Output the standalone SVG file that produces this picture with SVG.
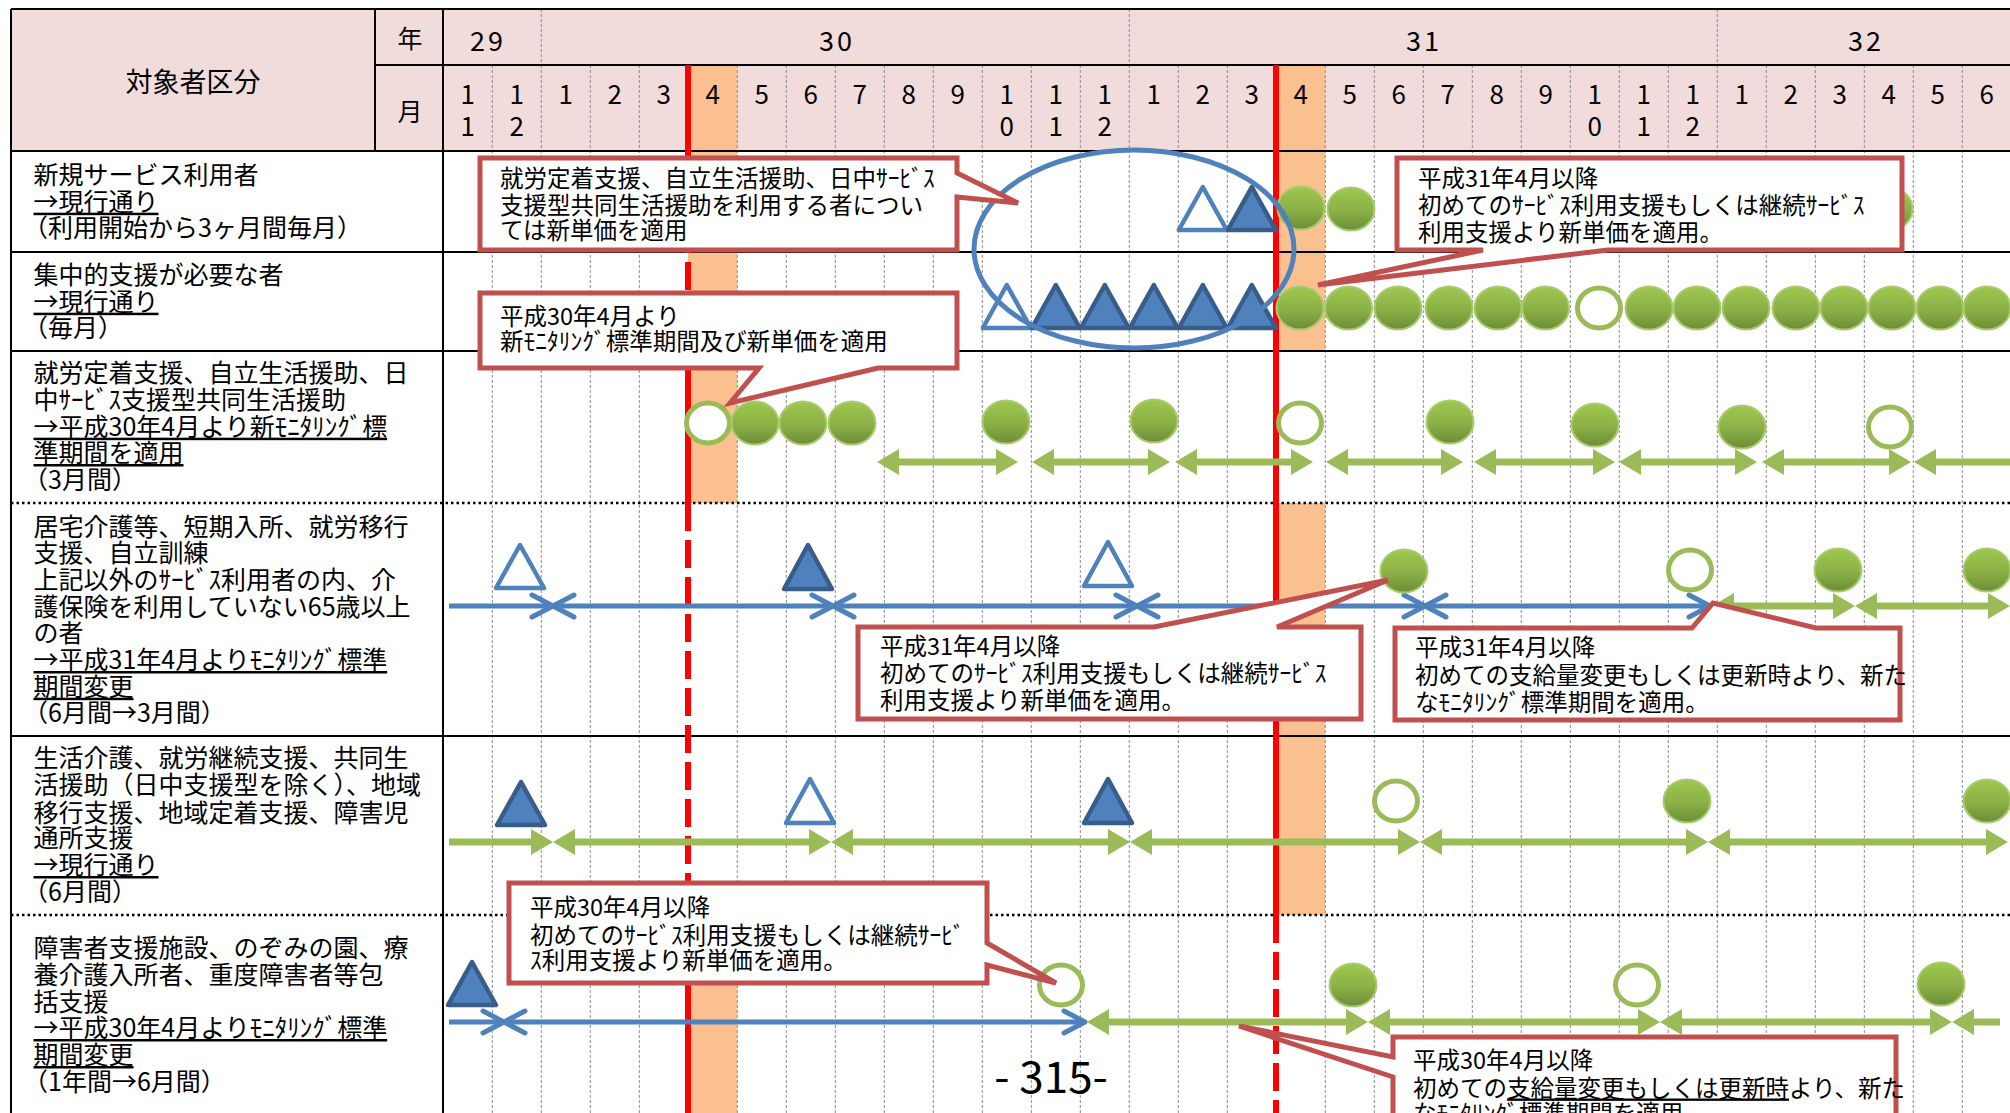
<svg xmlns="http://www.w3.org/2000/svg" width="2010" height="1113" viewBox="0 0 2010 1113">
<style>
text{font-family:"Noto Sans CJK JP","Noto Sans CJK SC",sans-serif;fill:#000}
.lb{font-size:25px}
.co{font-size:23.5px}
.hd{font-size:26px;text-anchor:middle}
.yr{font-size:27px;text-anchor:middle;letter-spacing:3px}
.u{text-decoration:underline}
.grid{stroke:#8a8a8a;stroke-width:1;stroke-dasharray:3 2;fill:none}
.rl{stroke:#000;stroke-width:2;fill:none}
.dot{stroke:#000;stroke-width:2.5;stroke-dasharray:2.5 3;fill:none}
.red{stroke:#FF0000;stroke-width:6;fill:none}
.redd{stroke:#FF0000;stroke-width:6;fill:none;stroke-dasharray:28 9}
.org{fill:#FAC090}
.cf{fill:url(#gg);stroke:#A8CB6E;stroke-width:2}
.ch{fill:#fff;stroke:#9BBB59;stroke-width:5}
.tf{fill:#4F81BD;stroke:#385D8A;stroke-width:4.5;stroke-linejoin:round}
.th{fill:#fff;stroke:#4F81BD;stroke-width:4.5;stroke-linejoin:round}
.ga{stroke:#9BBB59;stroke-width:7;fill:none;marker-start:url(#gh);marker-end:url(#gh)}
.gae{stroke:#9BBB59;stroke-width:7;fill:none;marker-end:url(#gh)}
.gas{stroke:#9BBB59;stroke-width:7;fill:none;marker-start:url(#gh)}
.ba{stroke:#4F81BD;stroke-width:5;fill:none;marker-start:url(#bh);marker-end:url(#bh)}
.bae{stroke:#4F81BD;stroke-width:5;fill:none;marker-end:url(#bh)}
.call{fill:#fff;stroke:#C0504D;stroke-width:5;stroke-linejoin:miter}
</style>
<defs>
<linearGradient id="gg" x1="0" y1="0" x2="0" y2="1">
<stop offset="0" stop-color="#9DC84E"/>
<stop offset="0.55" stop-color="#8BB046"/>
<stop offset="1" stop-color="#6C8C36"/>
</linearGradient>
<marker id="gh" viewBox="0 0 22 26" refX="12" refY="13" markerWidth="22" markerHeight="26" markerUnits="userSpaceOnUse" orient="auto-start-reverse">
<path d="M0,0 L22,13 L0,26 Z" fill="#9BBB59"/>
</marker>
<marker id="bh" viewBox="0 0 24 24" refX="22" refY="12" markerWidth="24" markerHeight="24" markerUnits="userSpaceOnUse" orient="auto-start-reverse" overflow="visible">
<path d="M1,1 L22,12 L1,23" fill="none" stroke="#4F81BD" stroke-width="5" stroke-linecap="round" stroke-linejoin="round"/>
</marker>
</defs>
<rect x="0" y="0" width="2010" height="1113" fill="#fff"/>

<g id="table">
<rect x="11" y="9" width="2000" height="142" fill="#F2DCDB"/>
<rect class="org" x="688" y="65" width="49" height="86"/>
<rect class="org" x="1276" y="65" width="49" height="86"/>
<rect class="org" x="688" y="151" width="49" height="352"/>
<rect class="org" x="688" y="915" width="49" height="200"/>
<rect class="org" x="1276" y="151" width="49" height="200"/>
<rect class="org" x="1276" y="503" width="49" height="412"/>
<path class="grid" d="M541.3,9V65 M1129.3,9V65 M1717.3,9V65"/>
<path class="grid" d="M492.3,65V1113 M541.3,65V1113 M590.3,65V1113 M639.3,65V1113 M737.3,65V1113 M786.3,65V1113 M835.3,65V1113 M884.3,65V1113 M933.3,65V1113 M982.3,65V1113 M1031.3,65V1113 M1080.3,65V1113 M1129.3,65V1113 M1178.3,65V1113 M1227.3,65V1113 M1325.3,65V1113 M1374.3,65V1113 M1423.3,65V1113 M1472.3,65V1113 M1521.3,65V1113 M1570.3,65V1113 M1619.3,65V1113 M1668.3,65V1113 M1717.3,65V1113 M1766.3,65V1113 M1815.3,65V1113 M1864.3,65V1113 M1913.3,65V1113 M1962.3,65V1113"/>
<path class="rl" stroke-width="2.5" d="M11,9H2010 M11,9V1113 M375,9V151 M443,9V1113 M375,65H2010 M11,151H2010"/>
<path class="rl" d="M11,252H2010 M11,351H2010 M11,736H2010"/>
<path class="dot" d="M11,503H2010 M11,915H2010"/>
<path class="red" d="M688,65V151 M688,351V503 M688,915V1113 M1276,65V915"/>
<path class="redd" d="M688,151V351 M688,503V915 M1276,915V1113"/>
</g>

<g id="header">
<text x="193" y="92" font-size="27" text-anchor="middle">対象者区分</text>
<text x="410" y="48" font-size="25" text-anchor="middle">年</text>
<text x="410" y="121" font-size="25" text-anchor="middle">月</text>
<text class="yr" x="488" y="51">29</text>
<text class="yr" x="837" y="51">30</text>
<text class="yr" x="1424" y="51">31</text>
<text class="yr" x="1866" y="51">32</text>
<text class="hd" x="467.8" y="104">1</text><text class="hd" x="467.8" y="136">1</text>
<text class="hd" x="516.8" y="104">1</text><text class="hd" x="516.8" y="136">2</text>
<text class="hd" x="565.8" y="104">1</text>
<text class="hd" x="614.8" y="104">2</text>
<text class="hd" x="663.8" y="104">3</text>
<text class="hd" x="712.8" y="104">4</text>
<text class="hd" x="761.8" y="104">5</text>
<text class="hd" x="810.8" y="104">6</text>
<text class="hd" x="859.8" y="104">7</text>
<text class="hd" x="908.8" y="104">8</text>
<text class="hd" x="957.8" y="104">9</text>
<text class="hd" x="1006.8" y="104">1</text><text class="hd" x="1006.8" y="136">0</text>
<text class="hd" x="1055.8" y="104">1</text><text class="hd" x="1055.8" y="136">1</text>
<text class="hd" x="1104.8" y="104">1</text><text class="hd" x="1104.8" y="136">2</text>
<text class="hd" x="1153.8" y="104">1</text>
<text class="hd" x="1202.8" y="104">2</text>
<text class="hd" x="1251.8" y="104">3</text>
<text class="hd" x="1300.8" y="104">4</text>
<text class="hd" x="1349.8" y="104">5</text>
<text class="hd" x="1398.8" y="104">6</text>
<text class="hd" x="1447.8" y="104">7</text>
<text class="hd" x="1496.8" y="104">8</text>
<text class="hd" x="1545.8" y="104">9</text>
<text class="hd" x="1594.8" y="104">1</text><text class="hd" x="1594.8" y="136">0</text>
<text class="hd" x="1643.8" y="104">1</text><text class="hd" x="1643.8" y="136">1</text>
<text class="hd" x="1692.8" y="104">1</text><text class="hd" x="1692.8" y="136">2</text>
<text class="hd" x="1741.8" y="104">1</text>
<text class="hd" x="1790.8" y="104">2</text>
<text class="hd" x="1839.8" y="104">3</text>
<text class="hd" x="1888.8" y="104">4</text>
<text class="hd" x="1937.8" y="104">5</text>
<text class="hd" x="1986.8" y="104">6</text>
</g>

<g id="labels">
<text class="lb" x="33.5" y="184">新規サービス利用者</text>
<text class="lb u" x="33.5" y="210.7">→現行通り</text>
<text class="lb" x="23" y="237">（利用開始から3ヶ月間毎月）</text>

<text class="lb" x="33.5" y="284">集中的支援が必要な者</text>
<text class="lb u" x="33.5" y="310.7">→現行通り</text>
<text class="lb" x="23" y="337">（毎月）</text>

<text class="lb" x="33.5" y="382">就労定着支援、自立生活援助、日</text>
<text class="lb" x="33.5" y="409">中ｻｰﾋﾞｽ支援型共同生活援助</text>
<text class="lb u" x="33.5" y="435.7">→平成30年4月より新ﾓﾆﾀﾘﾝｸﾞ標</text>
<text class="lb u" x="33.5" y="462">準期間を適用</text>
<text class="lb" x="23" y="489">（3月間）</text>

<text class="lb" x="33.5" y="535.7">居宅介護等、短期入所、就労移行</text>
<text class="lb" x="33.5" y="562">支援、自立訓練</text>
<text class="lb" x="33.5" y="589">上記以外のｻｰﾋﾞｽ利用者の内、介</text>
<text class="lb" x="33.5" y="615.7">護保険を利用していない65歳以上</text>
<text class="lb" x="33.5" y="642">の者</text>
<text class="lb u" x="33.5" y="669">→平成31年4月よりﾓﾆﾀﾘﾝｸﾞ標準</text>
<text class="lb u" x="33.5" y="695.7">期間変更</text>
<text class="lb" x="23" y="722">（6月間→3月間）</text>

<text class="lb" x="33.5" y="767">生活介護、就労継続支援、共同生</text>
<text class="lb" x="33.5" y="794">活援助（日中支援型を除く）、地域</text>
<text class="lb" x="33.5" y="822">移行支援、地域定着支援、障害児</text>
<text class="lb" x="33.5" y="847">通所支援</text>
<text class="lb u" x="33.5" y="874">→現行通り</text>
<text class="lb" x="23" y="901">（6月間）</text>

<text class="lb" x="33.5" y="957">障害者支援施設、のぞみの園、療</text>
<text class="lb" x="33.5" y="984">養介護入所者、重度障害者等包</text>
<text class="lb" x="33.5" y="1010.7">括支援</text>
<text class="lb u" x="33.5" y="1037">→平成30年4月よりﾓﾆﾀﾘﾝｸﾞ標準</text>
<text class="lb u" x="33.5" y="1064">期間変更</text>
<text class="lb" x="23" y="1090.7">（1年間→6月間）</text>
</g>

<g id="connectors">
<path class="ga" d="M887,462H1008"/>
<path class="ga" d="M1042,462H1160"/>
<path class="ga" d="M1185,462H1303"/>
<path class="ga" d="M1336,462H1453"/>
<path class="ga" d="M1484,462H1605"/>
<path class="ga" d="M1629,462H1747"/>
<path class="ga" d="M1772,462H1901"/>
<path class="gas" d="M1924,462H2030"/>

<path class="bae" d="M449,606H553"/>
<path class="ba" d="M553,606H833"/>
<path class="ba" d="M833,606H1137"/>
<path class="ba" d="M1137,606H1425"/>
<path class="ba" d="M1425,606H1710"/>
<path class="ga" d="M1722,606H1845"/>
<path class="ga" d="M1865,606H2000"/>

<path class="gae" d="M449,842H543"/>
<path class="ga" d="M563,842H821"/>
<path class="ga" d="M841,842H1120"/>
<path class="ga" d="M1140,842H1410"/>
<path class="ga" d="M1430,842H1698"/>
<path class="ga" d="M1718,842H1998"/>

<path class="bae" d="M449,1022H504"/>
<path class="ba" d="M504,1022H1085"/>
<path class="ga" d="M1097,1022H1358"/>
<path class="ga" d="M1378,1022H1650"/>
<path class="ga" d="M1670,1022H1942"/>
<path class="gas" d="M1962,1022H2000"/>
</g>

<g id="markers-row1">
<polygon class="th" points="1178.8,230 1202.8,187 1226.8,230"/>
<polygon class="tf" points="1227.8,230 1251.8,187 1275.8,230"/>
<ellipse class="cf" cx="1301" cy="208" rx="23.5" ry="21.5"/>
<ellipse class="cf" cx="1351" cy="209" rx="23.5" ry="21.5"/>
<ellipse class="cf" cx="1889" cy="209" rx="23.5" ry="21.5"/>
</g>

<g id="markers-row2">
<polygon class="th" points="982.8,328 1006.8,285 1030.8,328"/>
<polygon class="tf" points="1031.8,328 1055.8,285 1079.8,328"/>
<polygon class="tf" points="1080.8,328 1104.8,285 1128.8,328"/>
<polygon class="tf" points="1129.8,328 1153.8,285 1177.8,328"/>
<polygon class="tf" points="1178.8,328 1202.8,285 1226.8,328"/>
<polygon class="tf" points="1227.8,328 1251.8,285 1275.8,328"/>
<ellipse class="cf" cx="1300" cy="308" rx="23.5" ry="21.5"/>
<ellipse class="cf" cx="1348.5" cy="308" rx="23.5" ry="21.5"/>
<ellipse class="cf" cx="1398" cy="308" rx="23.5" ry="21.5"/>
<ellipse class="cf" cx="1449" cy="308" rx="23.5" ry="21.5"/>
<ellipse class="cf" cx="1498" cy="308" rx="23.5" ry="21.5"/>
<ellipse class="cf" cx="1545.5" cy="308" rx="23.5" ry="21.5"/>
<ellipse class="ch" cx="1599" cy="308" rx="21.5" ry="20"/>
<ellipse class="cf" cx="1649" cy="308" rx="23.5" ry="21.5"/>
<ellipse class="cf" cx="1697" cy="308" rx="23.5" ry="21.5"/>
<ellipse class="cf" cx="1746" cy="308" rx="23.5" ry="21.5"/>
<ellipse class="cf" cx="1796" cy="308" rx="23.5" ry="21.5"/>
<ellipse class="cf" cx="1844" cy="308" rx="23.5" ry="21.5"/>
<ellipse class="cf" cx="1892" cy="308" rx="23.5" ry="21.5"/>
<ellipse class="cf" cx="1940" cy="308" rx="23.5" ry="21.5"/>
<ellipse class="cf" cx="1987" cy="308" rx="23.5" ry="21.5"/>
</g>

<g id="markers-row3">
<ellipse class="ch" cx="708" cy="423" rx="21.5" ry="20"/>
<ellipse class="cf" cx="755" cy="423" rx="23.5" ry="21.5"/>
<ellipse class="cf" cx="803" cy="423" rx="23.5" ry="21.5"/>
<ellipse class="cf" cx="852" cy="423" rx="23.5" ry="21.5"/>
<ellipse class="cf" cx="1006" cy="422" rx="23.5" ry="21.5"/>
<ellipse class="cf" cx="1154" cy="421" rx="23.5" ry="21.5"/>
<ellipse class="ch" cx="1300" cy="423" rx="21.5" ry="20"/>
<ellipse class="cf" cx="1450" cy="422" rx="23.5" ry="21.5"/>
<ellipse class="cf" cx="1595" cy="425" rx="23.5" ry="21.5"/>
<ellipse class="cf" cx="1742" cy="427" rx="23.5" ry="21.5"/>
<ellipse class="ch" cx="1890" cy="427" rx="21.5" ry="20"/>
</g>

<g id="markers-row4">
<polygon class="th" points="496,588 520,545 544,588"/>
<polygon class="tf" points="784,589 808,545 832,589"/>
<polygon class="th" points="1084,586 1108,542 1132,586"/>
<ellipse class="cf" cx="1404" cy="571" rx="23.5" ry="21.5"/>
<ellipse class="ch" cx="1690" cy="570" rx="21.5" ry="20"/>
<ellipse class="cf" cx="1838" cy="570" rx="23.5" ry="21.5"/>
<ellipse class="cf" cx="1987" cy="570" rx="23.5" ry="21.5"/>
</g>

<g id="markers-row5">
<polygon class="tf" points="497,825 521,782 545,825"/>
<polygon class="th" points="786,823 810,779 834,823"/>
<polygon class="tf" points="1084,823 1108,779 1132,823"/>
<ellipse class="ch" cx="1396" cy="801" rx="21.5" ry="20"/>
<ellipse class="cf" cx="1687" cy="801" rx="23.5" ry="21.5"/>
<ellipse class="cf" cx="1987" cy="801" rx="23.5" ry="21.5"/>
</g>

<g id="markers-row6">
<polygon class="tf" points="448,1005 472,962 496,1005"/>
<ellipse class="ch" cx="1061" cy="985" rx="21.5" ry="20"/>
<ellipse class="cf" cx="1353" cy="985" rx="23.5" ry="21.5"/>
<ellipse class="ch" cx="1637" cy="985" rx="21.5" ry="20"/>
<ellipse class="cf" cx="1941" cy="984" rx="23.5" ry="21.5"/>
</g>

<g id="highlight">
<ellipse cx="1134" cy="249" rx="160" ry="99" fill="none" stroke="#4F81BD" stroke-width="5"/>
</g>

<g id="callout-a">
<path class="call" d="M480,158H957V173L1018,203L957,197V250H480Z"/>
<text class="co" font-size="24" x="500" y="186.5">就労定着支援、自立生活援助、日中ｻｰﾋﾞｽ</text>
<text class="co" font-size="24" x="500" y="213.5">支援型共同生活援助を利用する者につい</text>
<text class="co" font-size="24" x="500" y="238.5">ては新単価を適用</text>
</g>

<g id="callout-b">
<path class="call" d="M480,293H957V368H878L730,403L759,368H480Z"/>
<text class="co" x="500" y="325">平成30年4月より</text>
<text class="co" x="500" y="350">新ﾓﾆﾀﾘﾝｸﾞ標準期間及び新単価を適用</text>
</g>

<g id="callout-c">
<path class="call" d="M1397,158H1902V250H1608L1318,285L1483,250H1397Z"/>
<text class="co" x="1418" y="186.5">平成31年4月以降</text>
<text class="co" x="1418" y="213.5">初めてのｻｰﾋﾞｽ利用支援もしくは継続ｻｰﾋﾞｽ</text>
<text class="co" x="1418" y="240.5">利用支援より新単価を適用。</text>
</g>

<g id="callout-d">
<path class="call" d="M858,627H1154L1388,580L1277,627H1361V719H858Z"/>
<text class="co" x="880" y="655">平成31年4月以降</text>
<text class="co" x="880" y="681.5">初めてのｻｰﾋﾞｽ利用支援もしくは継続ｻｰﾋﾞｽ</text>
<text class="co" x="880" y="708.5">利用支援より新単価を適用。</text>
</g>

<g id="callout-e">
<path class="call" d="M1395,628H1692L1713,603L1816,628H1900V720H1395Z"/>
<text class="co" x="1415" y="655.5">平成31年4月以降</text>
<text class="co" x="1415" y="683.5">初めての支給量変更もしくは更新時より、新た</text>
<text class="co" x="1415" y="710.5">なﾓﾆﾀﾘﾝｸﾞ標準期間を適用。</text>
</g>

<g id="callout-f">
<path class="call" d="M509,883H987V943L1056,983L987,965V983H509Z"/>
<text class="co" x="530" y="915.5">平成30年4月以降</text>
<text class="co" x="530" y="943.5">初めてのｻｰﾋﾞｽ利用支援もしくは継続ｻｰﾋﾞ</text>
<text class="co" x="530" y="968.5">ｽ利用支援より新単価を適用。</text>
</g>

<g id="callout-g">
<path class="call" d="M1393,1037H1896V1135H1393V1077L1239,1026L1393,1057Z"/>
<text class="co" x="1413" y="1068.5">平成30年4月以降</text>
<text class="co" x="1413" y="1096.5">初めての<tspan class="u">支給量変更もしくは更新時</tspan>より、新た</text>
<text class="co" x="1413" y="1122">なﾓﾆﾀﾘﾝｸﾞ標準期間を適用。</text>
</g>

<g id="page">
<text x="1051" y="1093" font-family="Liberation Sans, Arial, sans-serif" font-size="44" text-anchor="middle">- 315-</text>
</g>
</svg>
